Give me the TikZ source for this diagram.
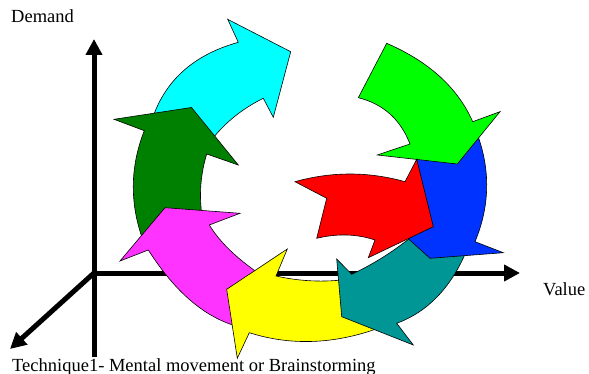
\documentclass[tikz,border=0pt]{standalone}
\usepackage{fontspec}
\setmainfont{Liberation Serif}
\usetikzlibrary{arrows.meta,calc}
\definecolor{cCyan}{RGB}{0,255,255}
\definecolor{cDkGreen}{RGB}{0,128,0}
\definecolor{cMagenta}{RGB}{255,51,255}
\definecolor{cYellow}{RGB}{255,255,0}
\definecolor{cTeal}{RGB}{0,150,150}
\definecolor{cBlue}{RGB}{0,51,255}
\definecolor{cLime}{RGB}{0,255,0}
\definecolor{cRed}{RGB}{255,0,0}
\tikzset{
  blob/.style={draw=black, line width=0.6pt, line join=miter},
  axisline/.style={line width=5pt, -{Triangle[length=16pt,width=16pt]}},
  lbl/.style={inner sep=0pt, anchor=base west, font=\fontsize{18.5}{22}\selectfont}
}
\begin{document}
\begin{tikzpicture}[x=1pt,y=-1pt]
\useasboundingbox (0,0) rectangle (589,374);
% axes
\coordinate (O) at (94,273);
\coordinate (Ytop) at (94,39);
\coordinate (Ybot) at (94,357);
\coordinate (Xend) at (520,273);
\coordinate (Zend) at (10,349);
\draw[axisline] (Ybot) -- (Ytop);
\draw[axisline] (O) -- (Xend);
\draw[axisline] (O) -- (Zend);
% cyan
\filldraw[blob, fill=cCyan] (148,135)
  .. controls ($(148,135)!0.6667!(162.85,63.35)$) and ($(238.3,42.3)!0.6667!(162.85,63.35)$) .. (238.3,42.3)
  -- (227.7,19.3) -- (290.7,51.7) -- (273.3,117.3) -- (263.3,98.3)
  .. controls ($(263.3,98.3)!0.6667!(221.35,118.85)$) and ($(198,160)!0.6667!(221.35,118.85)$) .. (198,160)
  -- cycle;
% dark green
\filldraw[blob, fill=cDkGreen] (144.3,130.7) -- (114,119.3) -- (191.5,107.5) -- (238.3,165) -- (206.7,154)
  .. controls ($(206.7,154)!0.6667!(194.65,193.5)$) and ($(206,235)!0.6667!(194.65,193.5)$) .. (206,235)
  -- (146,248)
  .. controls ($(146,248)!0.6667!(121.45,188.65)$) and ($(144.3,130.7)!0.6667!(121.45,188.65)$) .. (144.3,130.7)
  -- cycle;
% magenta
\filldraw[blob, fill=cMagenta] (148.3,250) -- (120,261) -- (165,207.7) -- (240,213.3) -- (209.3,225)
  .. controls ($(209.3,225)!0.6667!(227.35,254.5)$) and ($(272,282)!0.6667!(227.35,254.5)$) .. (272,282)
  -- (236,326)
  .. controls ($(236,326)!0.6667!(187.85,312)$) and ($(148.3,250)!0.6667!(187.85,312)$) .. (148.3,250)
  -- cycle;
% yellow
\filldraw[blob, fill=cYellow] (226.7,289.3) -- (287.3,249) -- (276,276)
  .. controls ($(276,276)!0.6667!(316,285)$) and ($(356,278)!0.6667!(316,285)$) .. (356,278)
  -- (380,324) -- (373.3,330)
  .. controls ($(373.3,330)!0.6667!(308.7,351.65)$) and ($(249.3,332.7)!0.6667!(308.7,351.65)$) .. (249.3,332.7)
  -- (237.3,358.3) -- cycle;
% teal
\filldraw[blob, fill=cTeal] (336.7,259) -- (351.7,274.3)
  .. controls ($(351.7,274.3)!0.6667!(389.15,256.85)$) and ($(422,228)!0.6667!(389.15,256.85)$) .. (422,228)
  -- (466,252)
  .. controls ($(466,252)!0.6667!(442.65,306.35)$) and ($(396.7,323.3)!0.6667!(442.65,306.35)$) .. (396.7,323.3)
  -- (413.3,345) -- (341.7,316.7) -- cycle;
% blue
\filldraw[blob, fill=cBlue] (430,258.3) -- (503.3,252.7) -- (475,241.7)
  .. controls ($(475,241.7)!0.6667!(498.9,184.15)$) and ($(474,126)!0.6667!(498.9,184.15)$) .. (474,126)
  -- (415,152) -- (431,226) -- (407,237.5) -- cycle;
% lime green
\filldraw[blob, fill=cLime] (358.3,97.7) -- (386.7,43.3)
  .. controls ($(386.7,43.3)!0.6667!(450.3,70.9)$) and ($(472.7,121.7)!0.6667!(450.3,70.9)$) .. (472.7,121.7)
  -- (500,111.7) -- (457.3,164) -- (377.3,155) -- (410,144)
  .. controls ($(410,144)!0.6667!(395.85,107.15)$) and ($(358.3,97.7)!0.6667!(395.85,107.15)$) .. (358.3,97.7)
  -- cycle;
% red
\filldraw[blob, fill=cRed] (295,181.7)
  .. controls ($(295,181.7)!0.6667!(350,166.3)$) and ($(405,181.7)!0.6667!(350,166.3)$) .. (405,181.7)
  -- (416.7,159.3) -- (433.3,226.7) -- (368.3,257.7) -- (375,240)
  .. controls ($(375,240)!0.6667!(347.55,230.85)$) and ($(316.7,238.3)!0.6667!(347.55,230.85)$) .. (316.7,238.3)
  -- (326.7,198.3) -- cycle;
% labels
\node[lbl] (demand) at (11,23) {Demand};
\node[lbl] (value) at (543,295) {Value};
\node[lbl] (tech) at (12,371.5) {Technique1- Mental movement or Brainstorming};
\end{tikzpicture}
\end{document}
